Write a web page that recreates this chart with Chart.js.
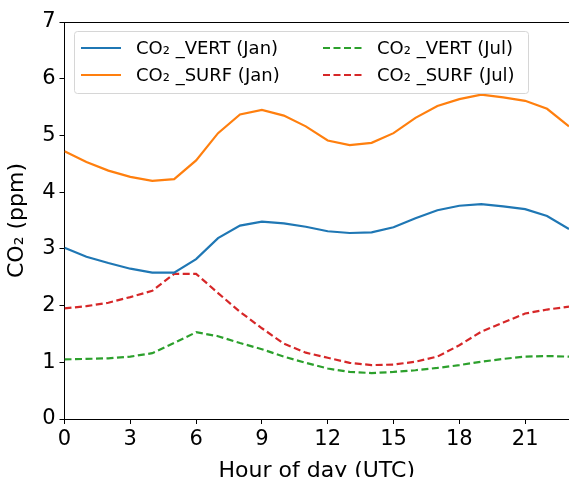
<!DOCTYPE html>
<html>
<head>
<meta charset="utf-8">
<script src="https://cdn.jsdelivr.net/npm/chart.js@4"></script>
<style>
  html, body { margin: 0; padding: 0; background: #fff; }
  #wrap { width: 569px; height: 477px; position: relative; }
</style>
</head>
<body>
<div id="wrap"><canvas id="myChart"></canvas></div>
<script>
// hourly means
const hours = [0, 1, 2, 3, 4, 5, 6, 7, 8, 9, 10, 11, 12, 13, 14, 15, 16, 17, 18, 19, 20, 21, 22, 23];
const vertJan = [3.02, 2.86, 2.75, 2.65, 2.58, 2.58, 2.82, 3.19, 3.41, 3.48, 3.45, 3.39, 3.31, 3.28, 3.29, 3.38, 3.54, 3.68, 3.76, 3.79, 3.75, 3.70, 3.58, 3.35];
const surfJan = [4.72, 4.53, 4.38, 4.27, 4.20, 4.23, 4.56, 5.04, 5.37, 5.45, 5.35, 5.16, 4.91, 4.83, 4.87, 5.04, 5.31, 5.52, 5.64, 5.72, 5.67, 5.61, 5.47, 5.16];
const vertJul = [1.05, 1.06, 1.07, 1.10, 1.16, 1.34, 1.53, 1.46, 1.34, 1.23, 1.10, 0.99, 0.89, 0.83, 0.81, 0.83, 0.86, 0.90, 0.95, 1.01, 1.06, 1.10, 1.11, 1.10];
const surfJul = [1.95, 1.99, 2.05, 2.15, 2.26, 2.56, 2.56, 2.22, 1.89, 1.60, 1.33, 1.17, 1.08, 0.99, 0.95, 0.96, 1.01, 1.10, 1.30, 1.54, 1.70, 1.86, 1.93, 1.98];
const labels = ['CO\u2082 _VERT (Jan)', 'CO\u2082 _SURF (Jan)', 'CO\u2082 _VERT (Jul)', 'CO\u2082 _SURF (Jul)'];

const FONT = "'DejaVu Sans', sans-serif";

function series(label, values, color, dash) {
    return {
        label: label,
        data: hours.map((h, i) => ({ x: h, y: values[i] })),
        borderColor: color,
        backgroundColor: color,
        borderWidth: 2.2,
        borderDash: dash,
        pointRadius: 0,
        tension: 0,
        fill: false
    };
}

// matplotlib-like legend box inside the axes, two columns
const boxLegend = {
    id: 'boxLegend',
    afterDraw(chart) {
        const ctx = chart.ctx;
        const a = chart.chartArea;
        // top spine
        ctx.save();
        ctx.strokeStyle = '#000';
        ctx.lineWidth = 1;
        ctx.beginPath();
        ctx.moveTo(a.left, a.top + 0.5);
        ctx.lineTo(a.right, a.top + 0.5);
        ctx.stroke();

        const x0 = 74, y0 = 31, w = 454, h = 62;
        ctx.fillStyle = 'rgba(255,255,255,0.8)';
        ctx.strokeStyle = '#d6d6d6';
        ctx.beginPath();
        ctx.roundRect(x0 + 0.5, y0 + 0.5, w, h, 3);
        ctx.fill();
        ctx.stroke();

        const cols = [{ line: 81, text: 136 }, { line: 323, text: 377 }];
        const rows = [48, 75];
        ctx.font = '18px ' + FONT;
        ctx.textBaseline = 'middle';
        chart.data.datasets.forEach((ds, k) => {
            const c = cols[Math.floor(k / 2)];
            const y = rows[k % 2];
            ctx.strokeStyle = ds.borderColor;
            ctx.lineWidth = 2;
            ctx.setLineDash(ds.borderDash || []);
            ctx.beginPath();
            ctx.moveTo(c.line, y);
            ctx.lineTo(c.line + 40, y);
            ctx.stroke();
            ctx.setLineDash([]);
            ctx.fillStyle = '#000';
            ctx.fillText(ds.label, c.text, y + 1);
        });
        ctx.restore();
    }
};

const config = {
    type: 'line',
    data: {
        datasets: [
            series(labels[0], vertJan, '#1f77b4', []),
            series(labels[1], surfJan, '#ff7f0e', []),
            series(labels[2], vertJul, '#2ca02c', [7, 3.5]),
            series(labels[3], surfJul, '#d62728', [7, 3.5])
        ]
    },
    options: {
        responsive: true,
        maintainAspectRatio: false,
        animation: false,
        layout: { padding: { top: 22, right: 0, left: 0, bottom: 0 } },
        plugins: {
            legend: { display: false },
            tooltip: { enabled: false }
        },
        scales: {
            x: {
                type: 'linear',
                min: 0,
                max: 23,
                afterFit(scale) { scale.height = 58; },
                ticks: {
                    stepSize: 3,
                    includeBounds: false,
                    color: '#000',
                    padding: 3,
                    maxRotation: 0,
                    font: { family: FONT, size: 21 }
                },
                grid: { drawOnChartArea: false, drawTicks: true, tickLength: 5, color: '#000' },
                border: { color: '#000', width: 1 },
                title: {
                    display: true,
                    text: 'Hour of day (UTC)',
                    color: '#000',
                    padding: { top: 0, bottom: -7 },
                    font: { family: FONT, size: 22 }
                }
            },
            y: {
                min: 0,
                max: 7,
                afterFit(scale) { scale.width = 64.5; },
                ticks: {
                    stepSize: 1,
                    color: '#000',
                    padding: 4,
                    font: { family: FONT, size: 21 }
                },
                grid: { drawOnChartArea: false, drawTicks: true, tickLength: 5, color: '#000' },
                border: { color: '#000', width: 1 },
                title: {
                    display: true,
                    text: 'CO\u2082 (ppm)',
                    color: '#000',
                    padding: { top: 4, bottom: 0 },
                    font: { family: FONT, size: 22 }
                }
            }
        }
    },
    plugins: [boxLegend]
};

const myChart = new Chart(document.getElementById('myChart'), config);
</script>
</body>
</html>
